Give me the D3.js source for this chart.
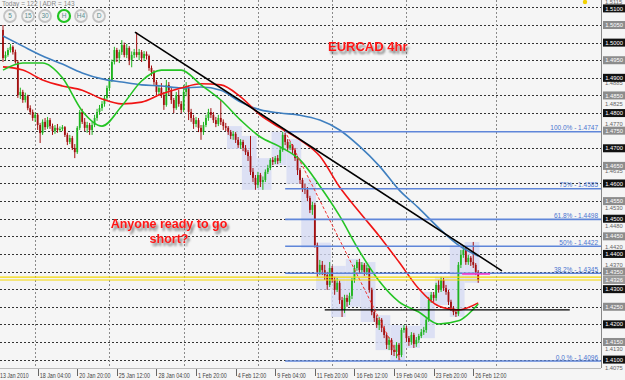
<!DOCTYPE html>
<html>
<head>
<meta charset="utf-8">
<script src="https://cdn.jsdelivr.net/npm/d3@7"></script>
<style>
  body { margin: 0; background: #f5f5f5; }
  svg { display: block; font-family: "Liberation Sans", Arial, sans-serif; }
</style>
</head>
<body>
<div id="chart"></div>
<script>
// EURCAD H4, prices written in 1/10000 (14956 = 1.4956)
const opens = [
  15036,14956,14965,14979,14988,14973,14945,14851,14860,14837,
  14848,14814,14803,14786,14795,14766,14743,14775,14760,14780,
  14763,14749,14758,14752,14755,14760,14738,14718,14729,14701,
  14689,14758,14803,14775,14758,14766,14752,14766,14786,14803,
  14814,14826,14843,14871,14894,14945,14979,14956,14973,14993,
  14965,14985,14951,14965,14973,14965,14973,14956,14968,14962,
  14928,14917,14888,14860,14871,14851,14823,14880,14865,14837,
  14814,14851,14826,14809,14860,14871,14803,14786,14769,14780,
  14758,14746,14766,14786,14803,14795,14780,14769,14786,14775,
  14763,14758,14746,14735,14741,14724,14709,14718,14701,14689,
  14678,14633,14616,14596,14624,14604,14610,14633,14644,14667,
  14661,14672,14664,14695,14738,14718,14701,14709,14695,14672,
  14638,14610,14587,14582,14559,14525,14539,14425,14349,14369,
  14354,14340,14312,14360,14326,14298,14318,14269,14241,14275,
  14264,14281,14326,14360,14377,14354,14369,14349,14360,14298,
  14235,14218,14198,14213,14190,14170,14142,14156,14127,14122,
  14142,14113,14184,14190,14161,14150,14170,14144,14156,14167,
  14178,14184,14213,14269,14284,14275,14312,14298,14326,14303,
  14292,14264,14247,14235,14230,14369,14397,14411,14377,14389,
  14377,14369,14349
];
const highs = [
  15050,14975,14985,14996,14992,14980,14950,14872,14866,14858,
  14852,14822,14810,14802,14800,14772,14782,14786,14789,14786,
  14770,14766,14769,14762,14766,14763,14744,14738,14735,14712,
  14763,14809,14812,14786,14775,14772,14775,14795,14812,14823,
  14834,14850,14878,14900,14952,14988,14985,14980,15007,15000,
  14996,14990,14975,14982,15030,14982,14979,14976,14975,14966,
  14935,14922,14894,14880,14885,14860,14894,14888,14871,14843,
  14860,14866,14834,14880,14888,14878,14812,14795,14789,14786,
  14766,14775,14795,14812,14814,14803,14789,14795,14837,14782,
  14772,14763,14752,14749,14746,14732,14726,14724,14709,14695,
  14735,14644,14624,14633,14630,14620,14640,14653,14672,14675,
  14678,14681,14704,14747,14744,14726,14718,14712,14701,14678,
  14644,14616,14599,14590,14565,14548,14545,14432,14383,14380,
  14369,14349,14377,14366,14335,14332,14324,14278,14284,14284,
  14290,14332,14369,14383,14386,14377,14374,14369,14363,14304,
  14244,14226,14221,14218,14196,14176,14164,14161,14142,14150,
  14147,14190,14198,14196,14167,14178,14176,14164,14173,14187,
  14193,14221,14278,14292,14292,14318,14326,14335,14332,14312,
  14298,14270,14252,14244,14377,14411,14425,14418,14397,14394,
  14434,14374,14354
];
const lows = [
  14945,14950,14960,14972,14966,14940,14843,14840,14829,14830,
  14808,14795,14778,14775,14752,14715,14738,14752,14755,14755,
  14738,14741,14744,14746,14749,14732,14709,14712,14695,14672,
  14684,14752,14769,14749,14744,14738,14738,14760,14778,14795,
  14806,14818,14837,14862,14888,14938,14945,14942,14965,14958,
  14956,14936,14930,14956,14958,14950,14945,14948,14952,14920,
  14905,14880,14846,14851,14843,14809,14818,14851,14826,14800,
  14809,14818,14800,14803,14848,14780,14775,14755,14760,14746,
  14724,14738,14760,14778,14786,14772,14760,14763,14766,14752,
  14749,14738,14726,14724,14715,14701,14698,14692,14681,14664,
  14624,14604,14582,14587,14590,14582,14604,14627,14638,14652,
  14655,14655,14658,14690,14709,14692,14695,14684,14664,14624,
  14599,14576,14570,14550,14516,14511,14418,14335,14340,14340,
  14326,14298,14306,14318,14284,14292,14258,14221,14232,14250,
  14255,14272,14318,14352,14346,14346,14338,14340,14290,14226,
  14207,14190,14184,14178,14161,14130,14127,14113,14110,14104,
  14096,14107,14176,14150,14139,14142,14133,14136,14147,14161,
  14170,14176,14207,14261,14264,14267,14290,14292,14295,14284,
  14255,14238,14226,14221,14224,14360,14389,14369,14369,14366,
  14360,14340,14318
];
const closes = [
  14956,14965,14979,14988,14973,14945,14851,14860,14837,14848,
  14814,14803,14786,14795,14766,14743,14775,14760,14780,14763,
  14749,14758,14752,14755,14760,14738,14718,14729,14701,14689,
  14758,14803,14775,14758,14766,14752,14766,14786,14803,14814,
  14826,14843,14871,14894,14945,14979,14956,14973,14993,14965,
  14985,14951,14965,14973,14965,14973,14956,14968,14962,14928,
  14917,14888,14860,14871,14851,14823,14880,14865,14837,14814,
  14851,14826,14809,14860,14871,14803,14786,14769,14780,14758,
  14746,14766,14786,14803,14795,14780,14769,14786,14775,14763,
  14758,14746,14735,14741,14724,14709,14718,14701,14689,14678,
  14633,14616,14596,14624,14604,14610,14633,14644,14667,14661,
  14672,14664,14695,14738,14718,14701,14709,14695,14672,14638,
  14610,14587,14582,14559,14525,14539,14425,14349,14369,14354,
  14340,14312,14360,14326,14298,14318,14269,14241,14275,14264,
  14281,14326,14360,14377,14354,14369,14349,14360,14298,14235,
  14218,14198,14213,14190,14170,14142,14156,14127,14122,14142,
  14113,14184,14190,14161,14150,14170,14144,14156,14167,14178,
  14184,14213,14269,14284,14275,14312,14298,14326,14303,14292,
  14264,14247,14235,14230,14369,14397,14411,14377,14389,14377,
  14369,14349,14326
];

// moving averages every 8 bars
const maBars = [0,8,16,24,32,40,48,56,64,72,80,88,96,104,112,120,128,136,144,152,160,168,176,184,192];
const blueMA = [15019,14990,14962,14939,14914,14897,14888,14880,14877,14871,14874,14865,14831,14809,14800,14794,14780,14752,14706,14650,14582,14530,14474,14425,14394];
const redMA = [14931,14922,14894,14877,14865,14840,14826,14831,14854,14871,14883,14880,14846,14794,14758,14724,14678,14590,14519,14451,14377,14301,14252,14241,14261];
const greenMA = [14922,14942,14942,14900,14806,14763,14820,14891,14922,14922,14880,14837,14780,14732,14704,14667,14593,14508,14408,14323,14264,14235,14201,14210,14258];

const timeLabels = ['13 Jan 2010','18 Jan 04:00','20 Jan 20:00','25 Jan 12:00','28 Jan 04:00','1 Feb 20:00','4 Feb 12:00','9 Feb 04:00','11 Feb 20:00','16 Feb 12:00','19 Feb 04:00','23 Feb 20:00','26 Feb 12:00'];
const timeLabelBars = [0,14,30,46,62,78,94,110,126,142,158,174,190];
const weekBars = [13,43,73,103,133,163,199];

// 50 pip levels (boxes on the price scale) and the plain scale ticks
const levels = [15100,15050,15000,14950,14900,14850,14800,14750,14700,14650,14600,14550,14500,14450,14400,14350,14300,14250,14200,14150,14100];
const scaleTicks = [15115,14885,14825,14770,14635,14530,14480,14420,14370,14130,14075];

const fibNames = ['100.0%','75%','61.8%','50%','38.2%','0.0 %'];
const fibPrices = [14747,14585,14498,14422,14345,14096];
const fibStartBar = 114;

const trendBars = [53.3, 201.6];
const trendPrices = [15030, 14352];
const dashTrendBars = [114.7, 160.4];
const dashTrendPrices = [14738, 14099];
const supportBars = [130, 229];
const supportPrice = 14241;
const pinkBars = [185.5, 196.8];
const pinkPrice = 14343;
const bidAsk = [14334, 14326];
const dayStart = 91;   // first day with a range box
const barsPerDay = 6;

const W = 625, H = 380, plotRight = 601, plotBottom = 368;
const p = v => v / 10000;
const fmt = d3.format('.4f');

const x = d3.scaleLinear().domain([0, 200]).range([3, 3 + 200 * 2.475]);
const y = d3.scaleLinear().domain([1.4075, 1.5121]).range([368.4, 0]);

const svg = d3.select('#chart').append('svg')
  .attr('width', W).attr('height', H);

const defs = svg.append('defs');
const shadow = defs.append('filter').attr('id', 'shadow')
  .attr('x', '-10%').attr('y', '-30%').attr('width', '130%').attr('height', '180%');
shadow.append('feDropShadow')
  .attr('dx', 2).attr('dy', 3).attr('stdDeviation', 1.3)
  .attr('flood-color', '#555').attr('flood-opacity', 0.75);
defs.append('clipPath').attr('id', 'plot')
  .append('rect').attr('width', plotRight).attr('height', plotBottom);

svg.append('rect').attr('width', W).attr('height', H).attr('fill', '#f5f5f5');

const plot = svg.append('g').attr('clip-path', 'url(#plot)');

// grid
plot.append('g').selectAll('line')
  .data(levels)
  .join('line')
  .attr('x1', 0).attr('x2', plotRight)
  .attr('y1', d => Math.round(y(p(d))) + 0.5)
  .attr('y2', d => Math.round(y(p(d))) + 0.5)
  .attr('stroke', '#333').attr('stroke-dasharray', '2,2');

plot.append('g').selectAll('line')
  .data(weekBars)
  .join('line')
  .attr('x1', d => Math.round(x(d)) + 0.5).attr('x2', d => Math.round(x(d)) + 0.5)
  .attr('y1', 0).attr('y2', plotBottom)
  .attr('stroke', '#8a8a8a').attr('stroke-dasharray', '2,2');

// daily range boxes
const days = [];
for (let s = dayStart; s < closes.length; s += barsPerDay) {
  const idx = d3.range(s, Math.min(s + barsPerDay, closes.length));
  days.push({
    s, e: idx[idx.length - 1],
    hi: d3.max(idx, i => highs[i]), lo: d3.min(idx, i => lows[i])
  });
}
plot.append('g').selectAll('rect')
  .data(days)
  .join('rect')
  .attr('x', d => x(d.s) - 1.2)
  .attr('width', d => x(d.e) - x(d.s) + 2.4)
  .attr('y', d => y(p(d.hi)))
  .attr('height', d => y(p(d.lo)) - y(p(d.hi)))
  .attr('fill', '#d6dbf4').attr('opacity', 0.8);

// candles
const bars = closes.map((c, i) => ({ i, o: opens[i], h: highs[i], l: lows[i], c }));
const candle = plot.append('g').selectAll('g')
  .data(bars)
  .join('g')
  .attr('stroke', d => d.c >= d.o ? '#1fb41f' : '#a31010')
  .attr('fill', d => d.c >= d.o ? '#1fb41f' : '#a31010');
candle.append('line')
  .attr('x1', d => x(d.i)).attr('x2', d => x(d.i))
  .attr('y1', d => y(p(d.h))).attr('y2', d => y(p(d.l)))
  .attr('stroke-width', 1);
candle.append('rect')
  .attr('stroke', 'none')
  .attr('x', d => x(d.i) - 0.9).attr('width', 1.8)
  .attr('y', d => y(p(Math.max(d.o, d.c))))
  .attr('height', d => Math.max(1, Math.abs(y(p(d.o)) - y(p(d.c)))));

// moving averages
const maLine = d3.line()
  .x((d, k) => x(maBars[k]))
  .y(d => y(p(d)))
  .curve(d3.curveMonotoneX);
[[blueMA, '#3f7fbf'], [redMA, '#f01414'], [greenMA, '#25c425']].forEach(([ma, col]) => {
  plot.append('path').datum(ma)
    .attr('d', maLine)
    .attr('fill', 'none').attr('stroke', col).attr('stroke-width', 1.6);
});

// fibo levels
const fib = plot.append('g');
fib.selectAll('line')
  .data(fibPrices)
  .join('line')
  .attr('x1', x(fibStartBar)).attr('x2', plotRight)
  .attr('y1', d => y(p(d))).attr('y2', d => y(p(d)))
  .attr('stroke', '#5f86d9').attr('stroke-width', 1.6);
fib.selectAll('text')
  .data(fibPrices)
  .join('text')
  .attr('x', 598).attr('y', d => y(p(d)) - 1.5)
  .attr('text-anchor', 'end')
  .attr('font-size', 6.5).attr('fill', '#4a74d0')
  .text((d, k) => `${fibNames[k]} - ${fmt(p(d))}`);

// drawn lines
plot.append('line')
  .attr('x1', x(supportBars[0])).attr('x2', x(supportBars[1]))
  .attr('y1', y(p(supportPrice))).attr('y2', y(p(supportPrice)))
  .attr('stroke', '#000').attr('stroke-width', 1.3);
plot.append('line')
  .attr('x1', x(dashTrendBars[0])).attr('x2', x(dashTrendBars[1]))
  .attr('y1', y(p(dashTrendPrices[0]))).attr('y2', y(p(dashTrendPrices[1])))
  .attr('stroke', '#f03030').attr('stroke-width', 1).attr('stroke-dasharray', '3,2');
plot.append('line')
  .attr('x1', x(trendBars[0])).attr('x2', x(trendBars[1]))
  .attr('y1', y(p(trendPrices[0]))).attr('y2', y(p(trendPrices[1])))
  .attr('stroke', '#000').attr('stroke-width', 1.6);
plot.append('line')
  .attr('x1', x(pinkBars[0])).attr('x2', x(pinkBars[1]))
  .attr('y1', y(p(pinkPrice))).attr('y2', y(p(pinkPrice)))
  .attr('stroke', '#ff33cc').attr('stroke-width', 1.5);
plot.append('g').selectAll('line')
  .data(bidAsk)
  .join('line')
  .attr('x1', 0).attr('x2', plotRight)
  .attr('y1', d => y(p(d))).attr('y2', d => y(p(d)))
  .attr('stroke', '#f5d800').attr('stroke-width', 1.2);

// price scale
svg.append('line')
  .attr('x1', plotRight + 0.5).attr('x2', plotRight + 0.5)
  .attr('y1', 0).attr('y2', plotBottom)
  .attr('stroke', '#888');
svg.append('line')
  .attr('x1', 0).attr('x2', plotRight)
  .attr('y1', plotBottom + 0.5).attr('y2', plotBottom + 0.5)
  .attr('stroke', '#bbb');

const scale = svg.append('g').attr('font-size', 5.8);
// plain ticks sit just outside the level boxes
scale.selectAll('text.tick')
  .data(scaleTicks)
  .join('text').attr('class', 'tick')
  .attr('x', 605)
  .attr('y', d => Math.max(4.2, y(p(d)) + 2))
  .attr('fill', '#666')
  .text(d => fmt(p(d)));

const box = scale.selectAll('g.level')
  .data(levels.concat([bidAsk[1]]))
  .join('g').attr('class', 'level')
  .attr('transform', d => `translate(603,${y(p(d)) + (d === 15100 ? 1 : 0)})`);
box.append('rect')
  .attr('x', 0).attr('y', -4).attr('width', 22).attr('height', 8)
  .attr('fill', d => d === bidAsk[1] ? '#9a9a9a' : (d % 100 === 0 ? '#111' : '#8c8c8c'));
box.append('text')
  .attr('x', 11).attr('y', 2.1).attr('text-anchor', 'middle')
  .attr('fill', '#fff')
  .text(d => fmt(p(d)));

// time scale
const time = svg.append('g').attr('font-size', 6.4).attr('fill', '#444');
time.selectAll('line')
  .data(timeLabelBars.slice(1))
  .join('line')
  .attr('x1', d => Math.round(x(d)) + 0.5).attr('x2', d => Math.round(x(d)) + 0.5)
  .attr('y1', plotBottom + 1).attr('y2', plotBottom + 8)
  .attr('stroke', '#666');
time.selectAll('text')
  .data(timeLabels)
  .join('text')
  .attr('x', (d, k) => k === 0 ? 0 : x(timeLabelBars[k]) + 2)
  .attr('y', 378)
  .attr('textLength', d => d.length * 2.6)
  .attr('lengthAdjust', 'spacingAndGlyphs')
  .text(d => d);

// header info and timeframe buttons
svg.append('text')
  .attr('x', 2).attr('y', 6).attr('font-size', 6.5).attr('fill', '#888')
  .text('Today = 122   |   ADR = 143');

const tfNames = ['5', '15', '30', 'H', 'H4', 'D'];
const tfX = [10, 28, 45, 64, 81, 99];
const tf = svg.append('g').selectAll('g')
  .data(tfNames)
  .join('g')
  .attr('transform', (d, k) => `translate(${tfX[k]},16)`);
tf.append('circle')
  .attr('r', 6)
  .attr('fill', '#f1f1f1')
  .attr('stroke', d => d === 'H' ? '#21c421' : '#c4c4c4')
  .attr('stroke-width', d => d === 'H' ? 2.2 : 1.8);
tf.append('text')
  .attr('y', 2.3).attr('text-anchor', 'middle')
  .attr('font-size', 6.5).attr('fill', '#5a8f8f')
  .text(d => d);

svg.append('circle')
  .attr('cx', 585).attr('cy', 2).attr('r', 2.2)
  .attr('fill', '#f2d200');

// annotations
const note = svg.append('g')
  .attr('fill', '#ff1414').attr('font-weight', 'bold')
  .attr('filter', 'url(#shadow)');
note.append('text')
  .attr('x', 328).attr('y', 51).attr('font-size', 13)
  .text('EURCAD 4hr');
note.append('text')
  .attr('x', 169).attr('y', 227.5).attr('font-size', 12.5).attr('text-anchor', 'middle')
  .text('Anyone ready to go');
note.append('text')
  .attr('x', 169).attr('y', 242.5).attr('font-size', 12.5).attr('text-anchor', 'middle')
  .text('short?');
</script>
</body>
</html>
